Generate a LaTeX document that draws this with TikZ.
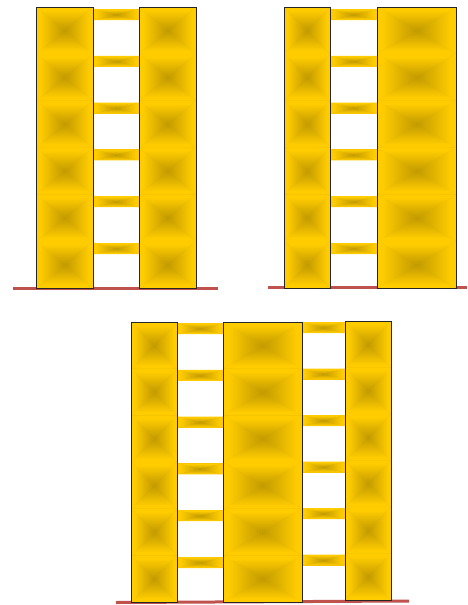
\documentclass[tikz,border=0pt]{standalone}
\usetikzlibrary{calc}
\definecolor{ylight}{RGB}{255,204,0}
\definecolor{ydark}{RGB}{194,154,0}
\definecolor{groundred}{RGB}{192,82,78}
\colorlet{ymid}{ylight!60!ydark}
% bright at the top edge, dark at the bottom (the centre of a box)
\pgfdeclareverticalshading{pyr}{100bp}{color(0bp)=(ydark); color(25bp)=(ydark);
  color(68bp)=(ylight); color(100bp)=(ylight)}
\tikzset{
  wallline/.style={
    draw=black!85,
    line width=0.9pt
  },
  ground/.style={
    draw=groundred,
    line width=3pt
  }
}
% box with dark centre, shaded as four triangles
\newcommand{\pyrbox}[4]{%
  \coordinate (pc) at ($(#1,#2)!0.5!(#3,#4)$);
  \fill[ymid] (#1,#2) rectangle (#3,#4);
  \shade[shading=pyr,shading angle=0] (#1,#2) -- (#3,#2) -- (pc) -- cycle;
  \shade[shading=pyr,shading angle=180] (#1,#4) -- (#3,#4) -- (pc) -- cycle;
  \shade[shading=pyr,shading angle=90] (#1,#2) -- (#1,#4) -- (pc) -- cycle;
  \shade[shading=pyr,shading angle=270] (#3,#2) -- (#3,#4) -- (pc) -- cycle;
}
% wall: x left, x right, top, bottom
\newcommand{\wallcol}[4]{%
  \foreach \k in {0,...,5}{
    \pgfmathsetmacro{\ya}{#3+\k*(#4-#3)/6}
    \pgfmathsetmacro{\yb}{#3+(\k+1)*(#4-#3)/6}
    \pyrbox{#1}{\ya}{#2}{\yb}
  }
  \draw[wallline] (#1,#3) rectangle (#2,#4);
}
% coupling beams: x left, x right, first top, spacing
\newcommand{\beamrow}[4]{%
  \foreach \k in {0,...,5}{
    \pgfmathsetmacro{\ya}{#3+\k*#4}
    \pgfmathsetmacro{\yb}{\ya+11}
    \pyrbox{#1}{\ya}{#2}{\yb}
  }
}
\begin{document}
\begin{tikzpicture}[x=1pt,y=-1pt]
  \useasboundingbox (0,0) rectangle (467,605);
  % top left
  \draw[ground] (13,288) -- (218,288);
  \beamrow{93}{139}{9}{46.8}
  \wallcol{36}{93}{7}{288}
  \wallcol{139}{196}{7}{288}
  % top right
  \draw[ground] (268,287.5) -- (467,287.5);
  \beamrow{330}{377}{9}{46.8}
  \wallcol{284}{330}{7}{288}
  \wallcol{377}{456}{7}{288}
  % bottom
  \draw[ground] (116,602.5) -- (409,601);
  \beamrow{177}{223}{323}{46.8}
  \beamrow{302}{345}{322}{46.5}
  \wallcol{131}{177}{322}{602}
  \wallcol{223}{302}{322}{602}
  \wallcol{345}{391}{321}{600}
\end{tikzpicture}
\end{document}
